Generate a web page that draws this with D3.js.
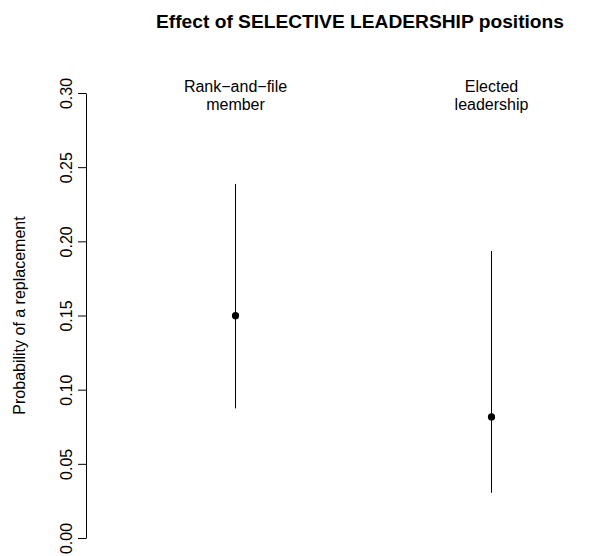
<!DOCTYPE html>
<html><head><meta charset="utf-8">
<script src="https://cdn.jsdelivr.net/npm/d3@7"></script>
<style>body{margin:0;background:#fff}text{font-family:"Liberation Sans",Arial,sans-serif}</style>
</head><body>
<script>
const categories = [["Rank\u2212and\u2212file", "member"], ["Elected", "leadership"]];
const estimates = [0.1499, 0.0816];
const lower = [0.0874, 0.0305];
const upper = [0.2387, 0.1935];
const yTicks = [0.00, 0.05, 0.10, 0.15, 0.20, 0.25, 0.30];
const title = "Effect of SELECTIVE LEADERSHIP positions";
const yLabel = "Probability of a replacement";

const W = 612, H = 556;
const svg = d3.select("body").append("svg").attr("width", W).attr("height", H);
const y = d3.scaleLinear().domain([0, 0.30]).range([538, 93]);
const x = d3.scaleLinear().domain([1, 2]).range([235.5, 491.5]);
const axisX = 86;

// y axis
const ax = svg.append("g").attr("transform", `translate(${axisX},0)`)
  .call(d3.axisLeft(y).tickValues(yTicks).tickFormat(d3.format(".2f")).tickSize(8).tickSizeOuter(0));
ax.select(".domain").attr("stroke", "#000");
ax.selectAll(".tick line").attr("stroke", "#000");
ax.selectAll(".tick text").remove();
ax.selectAll(".tick").append("text")
  .attr("transform", "translate(-14,0) rotate(-90)")
  .attr("text-anchor", "middle").attr("font-size", 16).attr("fill", "#000")
  .text(d => d3.format(".2f")(d));

// y label
svg.append("text").attr("transform", `translate(25,${(y(0)+y(0.30))/2}) rotate(-90)`)
  .attr("text-anchor", "middle").attr("font-size", 16).text(yLabel);

// title
svg.append("text").attr("x", 360).attr("y", 28).attr("text-anchor", "middle")
  .attr("font-size", 19.2).attr("font-weight", "bold").text(title);

// error bars
const idx = d3.range(categories.length);
svg.selectAll("line.err").data(idx).join("line").attr("class", "err")
  .attr("x1", i => x(i + 1)).attr("x2", i => x(i + 1))
  .attr("y1", i => y(lower[i])).attr("y2", i => y(upper[i]))
  .attr("stroke", "#000").attr("stroke-width", 1);
svg.selectAll("circle.pt").data(idx).join("circle").attr("class", "pt")
  .attr("cx", i => x(i + 1)).attr("cy", i => y(estimates[i])).attr("r", 3.6).attr("fill", "#000");

// category labels
svg.selectAll("text.cat").data(idx).join("text").attr("class", "cat")
  .attr("text-anchor", "middle").attr("font-size", 16)
  .each(function(i) {
    const t = d3.select(this);
    categories[i].forEach((s, k) => {
      t.append("tspan").attr("x", x(i + 1)).attr("y", 92 + k * 17.5).text(s);
    });
  });
</script>
</body></html>
